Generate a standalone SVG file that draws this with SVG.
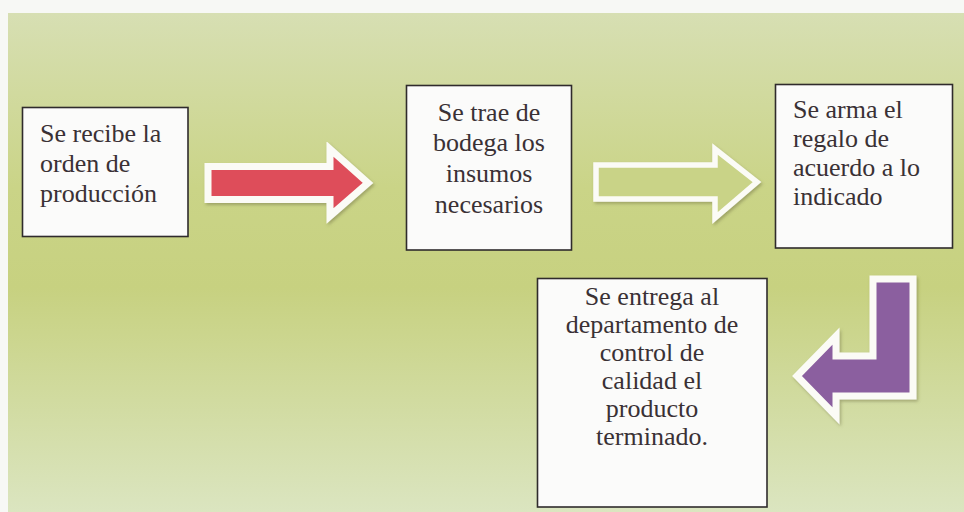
<svg xmlns="http://www.w3.org/2000/svg" width="964" height="512" viewBox="0 0 964 512">
<style>
.box{fill:#fbfbfa;stroke:#2f2b2c;stroke-width:1.6}
.t{font-family:'Liberation Serif','DejaVu Serif',serif;font-size:26px;fill:#3a3135}
.c{text-anchor:middle}
.arrow{stroke:#fbfbf6;stroke-width:7;stroke-linejoin:miter}
</style>
<defs>
<linearGradient id="bg" x1="0" y1="0" x2="0" y2="1">
<stop offset="0" stop-color="#d7dfb3"/>
<stop offset="0.35" stop-color="#cad487"/>
<stop offset="0.55" stop-color="#c7d180"/>
<stop offset="1" stop-color="#dbe5c0"/>
</linearGradient>
<filter id="sh" x="-10%" y="-10%" width="130%" height="130%">
<feDropShadow dx="1.5" dy="2" stdDeviation="1.5" flood-color="#6b6a40" flood-opacity="0.45"/>
</filter>
</defs>
<rect x="0" y="0" width="964" height="512" fill="#f7f8f5"/>
<rect x="8" y="13" width="956" height="499" fill="url(#bg)"/>

<g id="connectors">
<path id="arrow-red" class="arrow" filter="url(#sh)" fill="#de4e5a" d="M208,166.5 L330,166.5 L330,149 L368,183 L330,216 L330,199.5 L208,199.5 Z"/>
<path id="arrow-green" class="arrow" filter="url(#sh)" fill="#c9d387" style="stroke-width:5.5" d="M596,165 L715,165 L715,149 L757,182 L715,218 L715,199 L596,199 Z"/>
<path id="arrow-purple" class="arrow" filter="url(#sh)" fill="#8b5f9f" d="M873,279 L913,279 L913,396 L836,396 L836,416 L797,376 L836,336 L836,356 L873,356 Z"/>
</g>

<g id="node1" font-family="Liberation Serif, serif">
<rect class="box" x="22.5" y="107.5" width="165.5" height="129"/>
<text class="t" x="40" y="142" font-family="Liberation Serif, serif">Se recibe la</text>
<text class="t" x="40" y="172" font-family="Liberation Serif, serif">orden de</text>
<text class="t" x="40" y="202" font-family="Liberation Serif, serif">producción</text>
</g>

<g id="node2">
<rect class="box" x="406.5" y="85.5" width="165" height="164.5"/>
<text class="t c" x="489" y="121" font-family="Liberation Serif, serif">Se trae de</text>
<text class="t c" x="489" y="151" font-family="Liberation Serif, serif">bodega los</text>
<text class="t c" x="489" y="182" font-family="Liberation Serif, serif">insumos</text>
<text class="t c" x="489" y="213" font-family="Liberation Serif, serif">necesarios</text>
</g>

<g id="node3">
<rect class="box" x="775.5" y="84.5" width="177" height="163.5"/>
<text class="t" x="793" y="118" font-family="Liberation Serif, serif">Se arma el</text>
<text class="t" x="793" y="147" font-family="Liberation Serif, serif">regalo de</text>
<text class="t" x="793" y="176" font-family="Liberation Serif, serif">acuerdo a lo</text>
<text class="t" x="793" y="205" font-family="Liberation Serif, serif">indicado</text>
</g>

<g id="node4">
<rect class="box" x="537.5" y="278.5" width="229.5" height="228.5"/>
<text class="t c" x="652" y="305" font-family="Liberation Serif, serif">Se entrega al</text>
<text class="t c" x="652" y="333" font-family="Liberation Serif, serif">departamento de</text>
<text class="t c" x="652" y="361" font-family="Liberation Serif, serif">control de</text>
<text class="t c" x="652" y="389" font-family="Liberation Serif, serif">calidad el</text>
<text class="t c" x="652" y="417" font-family="Liberation Serif, serif">producto</text>
<text class="t c" x="652" y="445" font-family="Liberation Serif, serif">terminado.</text>
</g>
</svg>
